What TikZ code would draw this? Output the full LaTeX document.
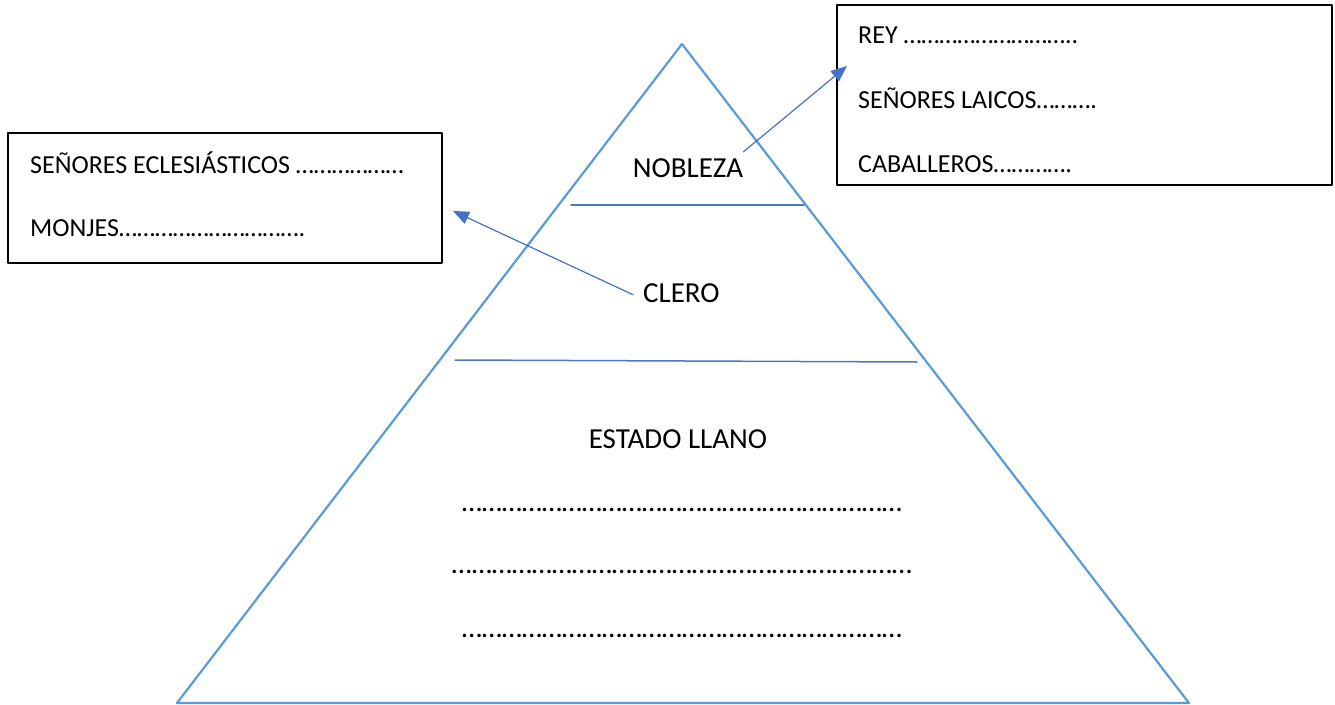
\documentclass[tikz,border=0pt]{standalone}
\usepackage{fontspec}
\setmainfont{Carlito}
\usetikzlibrary{arrows.meta}
\definecolor{tri}{HTML}{5B9BD5}
\definecolor{arr}{HTML}{4472C4}

\begin{document}
\begin{tikzpicture}[line cap=round, line join=round, x=1pt, y=-1pt,
    lbl/.style={inner sep=0pt, anchor=base, font=\fontsize{29}{34}\selectfont},
    boxtxt/.style={inner sep=0pt, anchor=base west, font=\fontsize{26}{31}\selectfont},
    pointer/.style={arr, line width=1.2pt, -{Triangle[length=16pt,width=13pt]}}]
  \useasboundingbox (0,0) rectangle (1335,704);
  % pyramid
  \coordinate (apex) at (682,44);
  \coordinate (bl) at (177,703);
  \coordinate (br) at (1189,703);
  \draw[tri, line width=2.2pt] (apex) -- (br) -- (bl) -- cycle;
  \coordinate (n1) at (571,205);
  \coordinate (n2) at (804,205);
  \coordinate (c1) at (455,360);
  \coordinate (c2) at (917,362);
  \draw[arr!80!tri, line width=1.5pt] (n1) -- (n2);
  \draw[arr!80!tri, line width=1.5pt] (c1) -- (c2);
  % estates
  \node[lbl] (nobleza) at (688,177) {NOBLEZA};
  \node[lbl, anchor=base west] (clero) at (643,302) {CLERO};
  \node[lbl] (llano) at (678,448) {ESTADO LLANO};
  \foreach \name/\y/\txt in {r1/511/{…………………………………………………………}, r2/573/{……………………………………………………………}, r3/637/{…………………………………………………………}}
    \node[lbl] (\name) at (682,\y) {\txt};
  % boxes
  \draw[line width=1.1pt] (8,133) rectangle (442,263);
  \draw[line width=1.1pt] (837,5) rectangle (1332,185);
  \node[boxtxt] (ecles) at (30,173) {SEÑORES ECLESIÁSTICOS ………………};
  \node[boxtxt] (monjes) at (30,236) {MONJES………………………….};
  \node[boxtxt] (rey) at (858,43) {REY ………………………..};
  \node[boxtxt] (laicos) at (858,108) {SEÑORES LAICOS……….};
  \node[boxtxt] (caball) at (858,172) {CABALLEROS………….};
  % pointers
  \coordinate (tipL) at (453,211);
  \coordinate (tipR) at (847,66);
  \draw[pointer] ([xshift=-10pt,yshift=-2pt]clero.west) -- (tipL);
  \draw[pointer] ([yshift=6pt]nobleza.north east) -- (tipR);
\end{tikzpicture}
\end{document}
